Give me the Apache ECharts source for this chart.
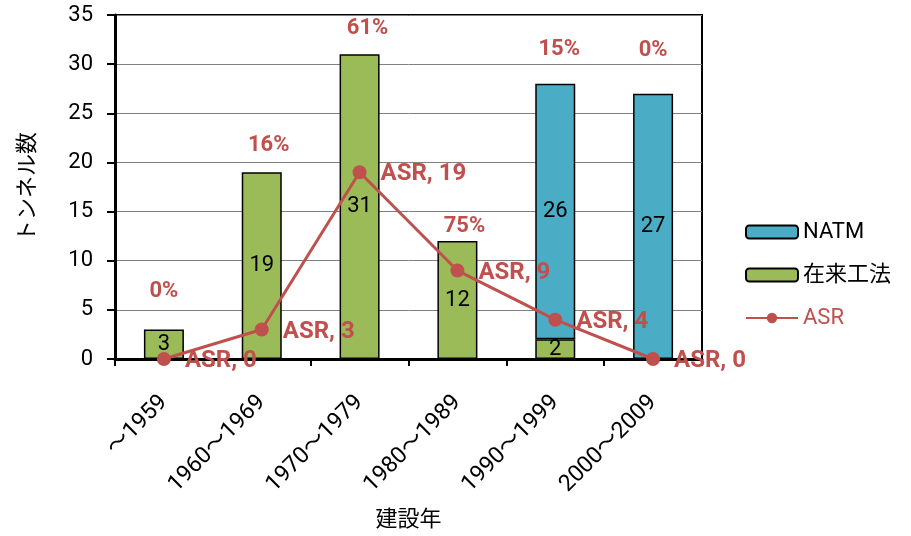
<!DOCTYPE html>
<html>
<head>
<meta charset="utf-8">
<script src="https://cdn.jsdelivr.net/npm/echarts@6/dist/echarts.min.js"></script>
<style>
  html, body { margin: 0; padding: 0; background: #fff; }
  #chart { width: 911px; height: 536px; }
</style>
</head>
<body>
<div id="chart"></div>
<script>
// Tunnel counts by construction period
const periods = ['～1959', '1960～1969', '1970～1979', '1980～1989', '1990～1999', '2000～2009'];
const conventional = [3, 19, 31, 12, 2, 0];   // 在来工法
const natm = [0, 0, 0, 0, 26, 27];            // NATM
const asr = [0, 3, 19, 9, 4, 0];              // ASR
const asrRate = ['0%', '16%', '61%', '75%', '15%', '0%'];
const yTicks = { min: 0, max: 35, interval: 5 };

// label nudges for the rate annotations above each bar (pixels)
const rateLabelShift = [[0, -27], [7, -16], [8, -15], [7, -4], [4, -23], [0, -32]];

const FONT = "Roboto, 'Noto Sans CJK JP', sans-serif";
const RED = '#c0504d';
const GREEN = '#9bbb59';
const BLUE = '#4bacc6';

const totals = conventional.map((v, i) => v + natm[i]);
const nz = arr => arr.map(v => (v === 0 ? null : v));

const chart = echarts.init(document.getElementById('chart'), null, { renderer: 'canvas' });

const barLabel = {
  show: true,
  position: 'inside',
  color: '#000',
  fontSize: 22,
  fontFamily: FONT
};

chart.setOption({
  animation: false,
  backgroundColor: '#fff',
  textStyle: { fontFamily: FONT },
  grid: {
    left: 115, right: 209, top: 15, bottom: 177,
    outerBoundsMode: 'none',
    containLabel: false,
    show: true, borderColor: '#000', borderWidth: 2, backgroundColor: 'transparent'
  },
  legend: {
    orient: 'vertical',
    left: 745,
    top: 221,
    padding: 0,
    itemWidth: 52,
    itemHeight: 13,
    itemGap: 21,
    textStyle: { fontSize: 22, color: '#000', fontFamily: FONT },
    data: [
      { name: 'NATM' },
      { name: '在来工法' },
      { name: 'ASR', textStyle: { color: RED } }
    ]
  },
  xAxis: {
    type: 'category',
    data: periods,
    boundaryGap: true,
    name: '建設年',
    nameLocation: 'middle',
    nameGap: 150,
    nameTextStyle: { fontSize: 22, color: '#000', fontFamily: FONT },
    axisLine: { lineStyle: { color: '#000', width: 3 } },
    axisTick: { show: true, alignWithLabel: false, length: 7, lineStyle: { color: '#000', width: 2 } },
    axisLabel: { rotate: 45, fontSize: 23, color: '#000', margin: 40, interval: 0, fontFamily: FONT },
    splitLine: { show: false }
  },
  yAxis: {
    type: 'value',
    min: yTicks.min, max: yTicks.max, interval: yTicks.interval,
    name: 'トンネル数',
    nameLocation: 'middle',
    nameRotate: 90,
    nameGap: 75,
    nameTextStyle: { fontSize: 22, color: '#000', fontFamily: FONT },
    axisLine: { show: true, lineStyle: { color: '#000', width: 3 } },
    axisTick: { show: true, inside: false, length: 8, lineStyle: { color: '#000', width: 2 } },
    axisLabel: { fontSize: 22, color: '#000', margin: 22, fontFamily: FONT },
    splitLine: { show: true, lineStyle: { color: '#808080', width: 1 } }
  },
  series: [
    {
      name: '在来工法',
      type: 'bar',
      stack: 'count',
      barWidth: 40,
      data: nz(conventional),
      itemStyle: { color: GREEN, borderColor: '#000', borderWidth: 1.5 },
      label: barLabel,
      z: 2
    },
    {
      name: 'NATM',
      type: 'bar',
      stack: 'count',
      barWidth: 40,
      data: nz(natm),
      itemStyle: { color: BLUE, borderColor: '#000', borderWidth: 1.5 },
      label: barLabel,
      z: 2
    },
    {
      name: 'rate',
      type: 'scatter',
      symbolSize: 0,
      silent: true,
      itemStyle: { opacity: 1 },
      data: totals.map((v, i) => ({
        value: v,
        label: { offset: rateLabelShift[i] }
      })),
      label: {
        show: true,
        position: 'top',
        distance: 0,
        color: RED,
        opacity: 1,
        fontWeight: 'bold',
        fontSize: 22,
        fontFamily: FONT,
        formatter: p => asrRate[p.dataIndex]
      },
      z: 3
    },
    {
      name: 'ASR',
      type: 'line',
      data: asr,
      color: RED,
      symbol: 'circle',
      symbolSize: 14,
      lineStyle: { color: RED, width: 3 },
      itemStyle: { color: RED },
      label: {
        show: true,
        position: 'right',
        distance: 14,
        offset: [0, 2],
        color: RED,
        fontWeight: 'bold',
        fontSize: 24,
        fontFamily: FONT,
        formatter: p => 'ASR, ' + p.value
      },
      z: 5
    }
  ]
});
</script>
</body>
</html>
